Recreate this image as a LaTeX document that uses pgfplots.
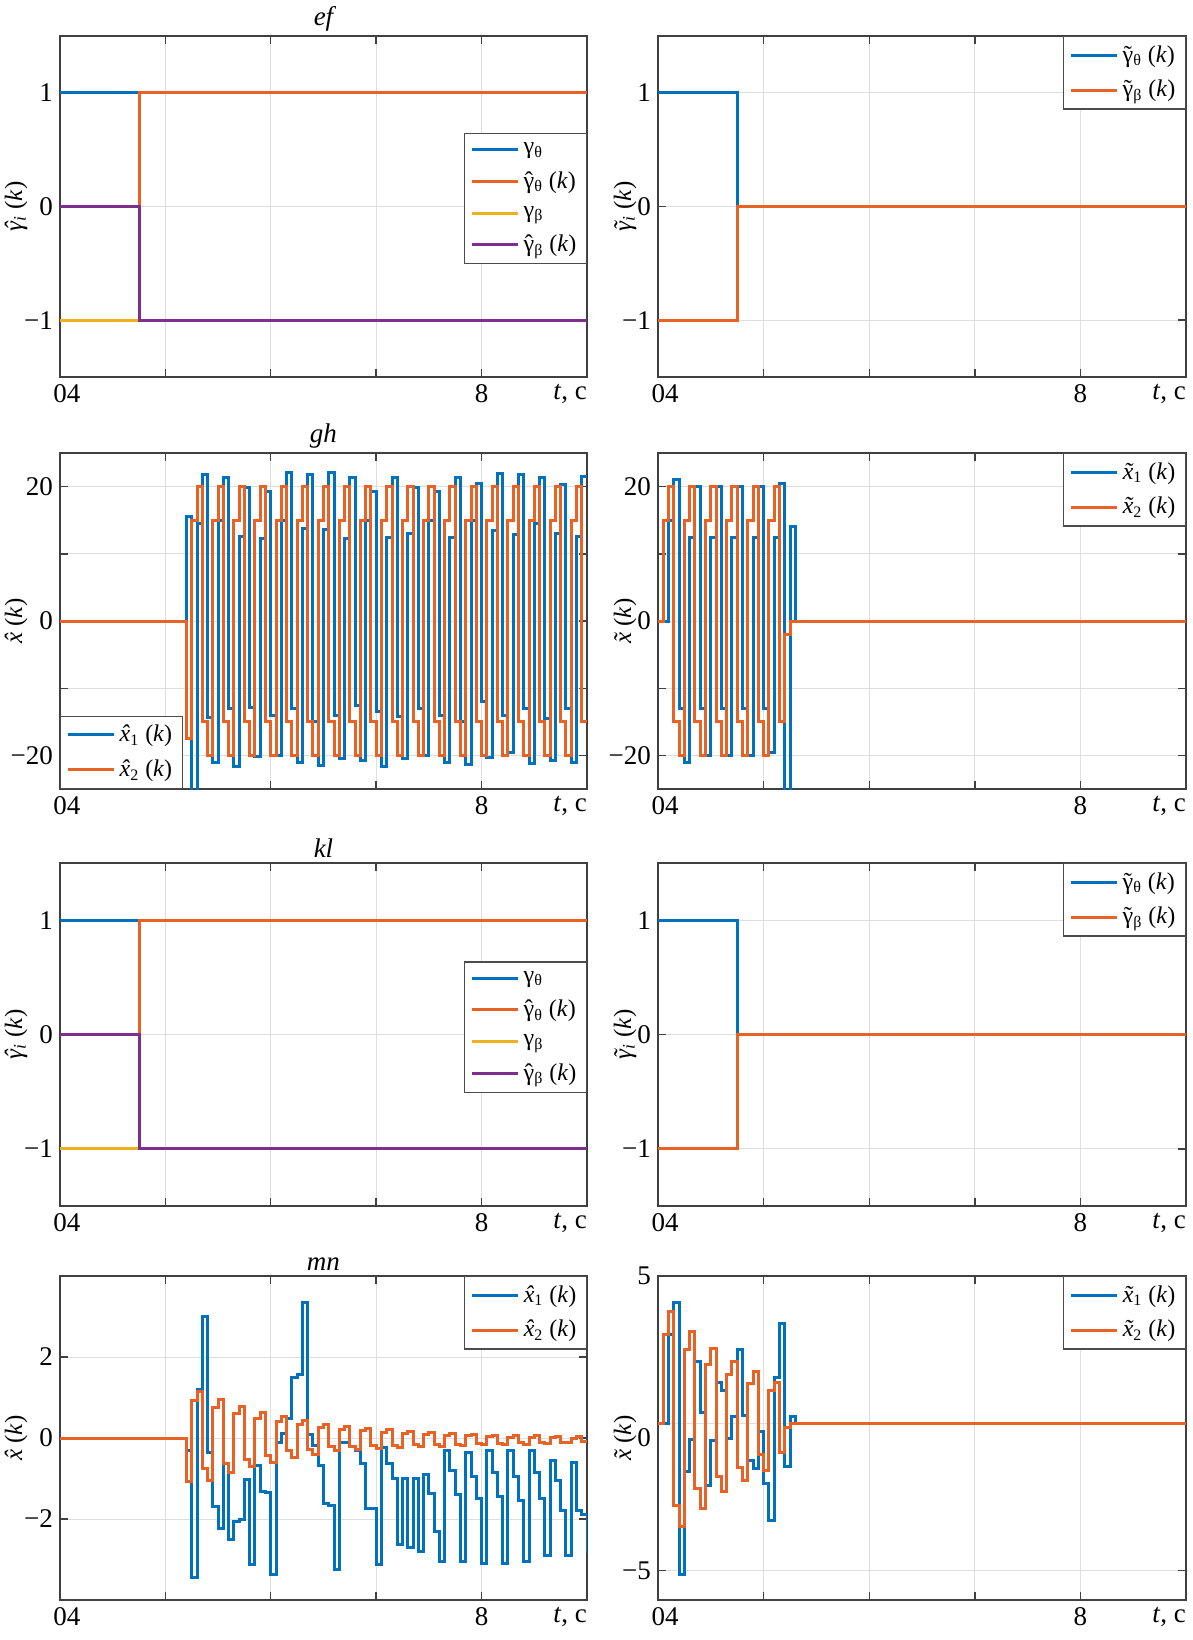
\documentclass[border=0pt]{standalone}
\usepackage{fontspec}
\setmainfont{Liberation Serif}
\usepackage{pgfplots}
\pgfplotsset{compat=1.18}
\definecolor{mblue}{rgb}{0,0.447,0.741}
\definecolor{morange}{RGB}{232,98,38}
\definecolor{myellow}{rgb}{0.929,0.694,0.125}
\definecolor{mpurple}{rgb}{0.494,0.184,0.556}
\newcommand\tickfont{\fontsize{13.5}{15}\selectfont}
\newcommand\legfont{\fontsize{12}{14}\selectfont}
\newcommand\labfont{\fontsize{12.5}{15}\selectfont}
\newcommand\acc[2]{\ooalign{#2\cr\hidewidth#1\hidewidth\cr}}
\newcommand\hatc[1]{\acc{\char"02C6}{#1}}
\newcommand\tilc[1]{\acc{\char"02DC}{#1}}
\newcommand\kk{(\textit{k})}
\newcommand\tc{\textit{t}{,}\ c}
\pgfplotsset{
  base/.style={
    scale only axis, anchor=north west,
    xmin=0, xmax=10,
    xtick={0,2,4,6,8,10},
    xticklabels={\hspace{7pt}04,{},{},{},8,{}},
    extra x ticks={10},
    extra x tick labels={\tc},
    extra x tick style={grid=none, major tick length=0pt, xticklabel style={anchor=north east, xshift=3.5pt}},
    grid=major,
    major grid style={line width=0.5pt, draw=black!13},
    axis line style={line width=0.8pt, draw=black!75},
    tick align=inside,
    major tick length=4pt,
    tick style={line width=0.7pt, draw=black!75},
    tick label style={font=\tickfont},
    every axis title/.style={at={(0.5,1)}, anchor=south, yshift=-1pt, font=\tickfont\itshape},
    legend cell align=left,
    legend style={font=\legfont, draw=black!70, line width=0.6pt, fill=white, inner xsep=3pt, inner ysep=2.5pt, row sep=3.5pt},
    legend image code/.code={\draw[#1, line width=1.5pt] (0pt,0pt) -- (23pt,0pt);},
    every axis plot/.append style={line width=1.5pt},
  },
  leftcol/.style={width=263.5pt, every axis y label/.style={at={(axis description cs:-0.0835,0.5)}, rotate=90, anchor=center, font=\labfont}},
  rightcol/.style={width=264pt, every axis y label/.style={at={(axis description cs:-0.0625,0.5)}, rotate=90, anchor=center, font=\labfont}},
  gam/.style={ymin=-1.5, ymax=1.5, ytick={-1,0,1}, yticklabels={−1,0,1}},
  bigx/.style={ymin=-25, ymax=25, ytick={-20,-10,0,10,20}, yticklabels={−20,{},0,{},20}},
}
\begin{document}
\begin{tikzpicture}
\useasboundingbox (0pt,0pt) rectangle (596.5pt,-820pt);

% ---------------- Row 1 left
\begin{axis}[base, leftcol, gam, at={(30pt,-18pt)}, height=170.5pt, title={ef},
  ylabel={{\itshape\hatc{γ}}\textsubscript{\itshape i} \kk},
  legend style={at={(1,0.716)}, anchor=north east}]
\addplot[const plot, mblue] coordinates {(0,1) (10,1)};
\addlegendentry{γ\textsubscript{θ}}
\addplot[const plot, morange] coordinates {(0,0) (1.5,1) (10,1)};
\addlegendentry{\hatc{γ}\textsubscript{θ} \kk}
\addplot[const plot, myellow] coordinates {(0,-1) (10,-1)};
\addlegendentry{γ\textsubscript{β}}
\addplot[const plot, mpurple] coordinates {(0,0) (1.5,-1) (10,-1)};
\addlegendentry{\hatc{γ}\textsubscript{β} \kk}
\end{axis}

% ---------------- Row 1 right
\begin{axis}[base, rightcol, gam, at={(329pt,-18pt)}, height=170.5pt,
  ylabel={{\itshape\tilc{γ}}\textsubscript{\itshape i} \kk},
  legend style={at={(1,1)}, anchor=north east}]
\addplot[const plot, mblue] coordinates {(0,1) (1.5,0) (10,0)};
\addlegendentry{\tilc{γ}\textsubscript{θ} \kk}
\addplot[const plot, morange] coordinates {(0,-1) (1.5,0) (10,0)};
\addlegendentry{\tilc{γ}\textsubscript{β} \kk}
\end{axis}

% ---------------- Row 2 left
\begin{axis}[base, leftcol, bigx, at={(30pt,-226.5pt)}, height=168pt, title={gh},
  ylabel={\textit{\hatc{x}} \kk},
  legend style={at={(0,0)}, anchor=south west}]
\addplot[const plot, mblue] coordinates {(0,0) (2.4,15.5) (2.5,-30) (2.6,14.5) (2.7,21.8)
 (2.8,-14.3) (2.9,-21.0) (3.0,15.0) (3.1,21.4)
 (3.2,-13.0) (3.3,-21.7) (3.4,12.6) (3.5,19.8)
 (3.6,-12.8) (3.7,-20.2) (3.8,12.3) (3.9,19.3)
 (4.0,-14.0) (4.1,-20.0) (4.2,15.0) (4.3,22.1)
 (4.4,-13.0) (4.5,-21.0) (4.6,13.8) (4.7,21.8)
 (4.8,-15.0) (4.9,-21.5) (5.0,13.6) (5.1,22.1)
 (5.2,-14.0) (5.3,-20.5) (5.4,12.3) (5.5,21.4)
 (5.6,-12.5) (5.7,-20.7) (5.8,15.0) (5.9,19.3)
 (6.0,-13.5) (6.1,-21.7) (6.2,12.5) (6.3,21.4)
 (6.4,-14.2) (6.5,-20.5) (6.6,13.0) (6.7,19.8)
 (6.8,-13.0) (6.9,-20.0) (7.0,15.0) (7.1,19.3)
 (7.2,-14.0) (7.3,-21.0) (7.4,12.5) (7.5,21.4)
 (7.6,-15.0) (7.7,-21.3) (7.8,15.0) (7.9,20.5)
 (8.0,-12.0) (8.1,-20.3) (8.2,13.5) (8.3,22.0)
 (8.4,-14.0) (8.5,-19.5) (8.6,12.8) (8.7,21.8)
 (8.8,-13.0) (8.9,-21.2) (9.0,14.5) (9.1,21.4)
 (9.2,-14.5) (9.3,-20.7) (9.4,13.0) (9.5,20.3)
 (9.6,-13.0) (9.7,-21.0) (9.8,12.6) (9.9,21.5) (10,21.5)};
\addlegendentry{\textit{\hatc{x}}\textsubscript{1} \kk}
\addplot[const plot, morange] coordinates {(0,0) (2.4,-17.5)
 (2.5,15) (2.6,20) (2.7,-15) (2.8,-20)
 (2.9,15) (3.0,20) (3.1,-15) (3.2,-20)
 (3.3,15) (3.4,20) (3.5,-15) (3.6,-20)
 (3.7,15) (3.8,20) (3.9,-15) (4.0,-20)
 (4.1,15) (4.2,20) (4.3,-15) (4.4,-20)
 (4.5,15) (4.6,20) (4.7,-15) (4.8,-20)
 (4.9,15) (5.0,20) (5.1,-15) (5.2,-20)
 (5.3,15) (5.4,20) (5.5,-15) (5.6,-20)
 (5.7,15) (5.8,20) (5.9,-15) (6.0,-20)
 (6.1,15) (6.2,20) (6.3,-15) (6.4,-20)
 (6.5,15) (6.6,20) (6.7,-15) (6.8,-20)
 (6.9,15) (7.0,20) (7.1,-15) (7.2,-20)
 (7.3,15) (7.4,20) (7.5,-15) (7.6,-20)
 (7.7,15) (7.8,20) (7.9,-15) (8.0,-20)
 (8.1,15) (8.2,20) (8.3,-15) (8.4,-20)
 (8.5,15) (8.6,20) (8.7,-15) (8.8,-20)
 (8.9,15) (9.0,20) (9.1,-15) (9.2,-20)
 (9.3,15) (9.4,20) (9.5,-15) (9.6,-20)
 (9.7,15) (9.8,20) (9.9,-15) (10,-15)};
\addlegendentry{\textit{\hatc{x}}\textsubscript{2} \kk}
\end{axis}

% ---------------- Row 2 right
\begin{axis}[base, rightcol, bigx, at={(329pt,-226.5pt)}, height=168pt,
  ylabel={\textit{\tilc{x}} \kk},
  legend style={at={(1,1)}, anchor=north east}]
\addplot[const plot, mblue] coordinates {(0,0) (0.2,15) (0.3,21) (0.4,-13) (0.5,-21)
 (0.6,12.5) (0.7,20) (0.8,-13) (0.9,-20) (1.0,12.5) (1.1,20) (1.2,-13) (1.3,-20)
 (1.4,12.5) (1.5,20) (1.6,-13) (1.7,-20) (1.8,12.5) (1.9,20) (2.0,-13) (2.1,-19.5)
 (2.2,12.5) (2.3,20.5) (2.4,-30) (2.5,14) (2.6,0) (10,0)};
\addlegendentry{\textit{\tilc{x}}\textsubscript{1} \kk}
\addplot[const plot, morange] coordinates {(0,0) (0.1,15) (0.2,20) (0.3,-15) (0.4,-20)
 (0.5,15) (0.6,20) (0.7,-15) (0.8,-20) (0.9,15) (1.0,20) (1.1,-15) (1.2,-20)
 (1.3,15) (1.4,20) (1.5,-15) (1.6,-20) (1.7,15) (1.8,20) (1.9,-15) (2.0,-20)
 (2.1,15) (2.2,20) (2.3,-15) (2.4,-2) (2.5,0) (10,0)};
\addlegendentry{\textit{\tilc{x}}\textsubscript{2} \kk}
\end{axis}

% ---------------- Row 3 left
\begin{axis}[base, leftcol, gam, at={(30pt,-431.5pt)}, height=171.5pt, title={kl},
  ylabel={{\itshape\hatc{γ}}\textsubscript{\itshape i} \kk},
  legend style={at={(1,0.713)}, anchor=north east}]
\addplot[const plot, mblue] coordinates {(0,1) (10,1)};
\addlegendentry{γ\textsubscript{θ}}
\addplot[const plot, morange] coordinates {(0,0) (1.5,1) (10,1)};
\addlegendentry{\hatc{γ}\textsubscript{θ} \kk}
\addplot[const plot, myellow] coordinates {(0,-1) (10,-1)};
\addlegendentry{γ\textsubscript{β}}
\addplot[const plot, mpurple] coordinates {(0,0) (1.5,-1) (10,-1)};
\addlegendentry{\hatc{γ}\textsubscript{β} \kk}
\end{axis}

% ---------------- Row 3 right
\begin{axis}[base, rightcol, gam, at={(329pt,-431.5pt)}, height=171.5pt,
  ylabel={{\itshape\tilc{γ}}\textsubscript{\itshape i} \kk},
  legend style={at={(1,1)}, anchor=north east}]
\addplot[const plot, mblue] coordinates {(0,1) (1.5,0) (10,0)};
\addlegendentry{\tilc{γ}\textsubscript{θ} \kk}
\addplot[const plot, morange] coordinates {(0,-1) (1.5,0) (10,0)};
\addlegendentry{\tilc{γ}\textsubscript{β} \kk}
\end{axis}

% ---------------- Row 4 left
\begin{axis}[base, leftcol, at={(30pt,-638pt)}, height=162pt, title={mn},
  ymin=-4, ymax=4, ytick={-2,0,2}, yticklabels={−2,0,2},
  ylabel={\textit{\hatc{x}} \kk},
  legend style={at={(1,1)}, anchor=north east}]
\addplot[const plot, mblue] coordinates {(0,0) (2.4,-0.32) (2.5,-3.45) (2.6,1.20) (2.7,3.00)
 (2.8,-0.35) (2.9,-1.70) (3.0,-2.23) (3.1,-0.63) (3.2,-2.50) (3.3,-2.07) (3.4,-2.00)
 (3.5,-1.03) (3.6,-3.13) (3.7,-0.67) (3.8,-1.31) (3.9,-1.35) (4.0,-3.36) (4.1,-0.10)
 (4.2,0.10) (4.3,0.48) (4.4,1.49) (4.5,1.57) (4.6,3.35) (4.7,0.08) (4.8,-0.18)
 (4.9,-0.68) (5.0,-1.62) (5.1,-1.66) (5.2,-3.25) (5.3,-0.12) (5.4,-0.12) (5.5,-0.20)
 (5.6,-0.30) (5.7,-0.64) (5.8,-1.73) (5.9,-1.73) (6.0,-3.12) (6.1,-0.24) (6.2,-0.64)
 (6.3,-1.00) (6.4,-2.63) (6.5,-1.00) (6.6,-2.70) (6.7,-1.00) (6.8,-2.80) (6.9,-0.90)
 (7.0,-1.37) (7.1,-2.30) (7.2,-3.05) (7.3,-0.30) (7.4,-0.80) (7.5,-1.40) (7.6,-3.05)
 (7.7,-0.35) (7.8,-0.95) (7.9,-1.50) (8.0,-3.10) (8.1,-0.30) (8.2,-0.85) (8.3,-1.45)
 (8.4,-3.10) (8.5,-0.30) (8.6,-0.95) (8.7,-1.55) (8.8,-3.05) (8.9,-0.30) (9.0,-0.85)
 (9.1,-1.50) (9.2,-2.90) (9.3,-0.55) (9.4,-1.05) (9.5,-1.80) (9.6,-2.90) (9.7,-0.60)
 (9.8,-1.78) (9.9,-1.90) (10,-2.85)};
\addlegendentry{\textit{\hatc{x}}\textsubscript{1} \kk}
\addplot[const plot, morange] coordinates {(0,0) (2.4,-1.08) (2.5,0.92) (2.6,1.14) (2.7,-0.76)
 (2.8,-1.04) (2.9,0.76) (3.0,0.96) (3.1,-0.64) (3.2,-0.84) (3.3,0.60) (3.4,0.78)
 (3.5,-0.52) (3.6,-0.70) (3.7,0.48) (3.8,0.63) (3.9,-0.42) (4.0,-0.60) (4.1,0.40)
 (4.2,0.52) (4.3,-0.32) (4.4,-0.48) (4.5,0.34) (4.6,0.44) (4.7,-0.28) (4.8,-0.40)
 (4.9,0.27) (5.0,0.34) (5.1,-0.22) (5.2,-0.32) (5.3,0.22) (5.4,0.28) (5.5,-0.20)
 (5.6,-0.28) (5.7,0.18) (5.8,0.24) (5.9,-0.18) (6.0,-0.26) (6.1,0.14) (6.2,0.20)
 (6.3,-0.18) (6.4,-0.24) (6.5,0.10) (6.6,0.16) (6.7,-0.17) (6.8,-0.22) (6.9,0.08)
 (7.0,0.13) (7.1,-0.16) (7.2,-0.20) (7.3,0.06) (7.4,0.11) (7.5,-0.15) (7.6,-0.19)
 (7.7,0.05) (7.8,0.09) (7.9,-0.14) (8.0,-0.17) (8.1,0.03) (8.2,0.07) (8.3,-0.13)
 (8.4,-0.16) (8.5,0.02) (8.6,0.06) (8.7,-0.12) (8.8,-0.15) (8.9,0.01) (9.0,0.05)
 (9.1,-0.11) (9.2,-0.14) (9.3,0.01) (9.4,0.04) (9.5,-0.10) (9.6,-0.12) (9.7,0.00)
 (9.8,0.03) (9.9,-0.09) (10,-0.09)};
\addlegendentry{\textit{\hatc{x}}\textsubscript{2} \kk}
\end{axis}

% ---------------- Row 4 right
\begin{axis}[base, rightcol, at={(329pt,-638pt)}, height=162pt,
  ymin=-6, ymax=5, ytick={-5,0,5}, yticklabels={−5,\raisebox{-11.4pt}[0pt][0pt]{0},5},
  ylabel={\textit{\tilc{x}} \kk},
  legend style={at={(1,1)}, anchor=north east}]
\addplot[const plot, mblue] coordinates {(0,0) (0.2,3.0) (0.3,4.1) (0.4,-5.15) (0.5,-1.65)
 (0.6,-0.55) (0.7,2.1) (0.8,0.35) (0.9,-2.1) (1.0,-0.6) (1.1,1.4) (1.2,1.1) (1.3,-0.5)
 (1.4,0.22) (1.5,2.5) (1.6,0.28) (1.7,-1.25) (1.8,-1.55) (1.9,-0.28) (2.0,-2.05)
 (2.1,-3.3) (2.2,1.55) (2.3,3.4) (2.4,-1.45) (2.5,0.24) (2.6,0) (10,0)};
\addlegendentry{\textit{\tilc{x}}\textsubscript{1} \kk}
\addplot[const plot, morange] coordinates {(0,0) (0.1,3.0) (0.2,3.8) (0.3,-2.8) (0.4,-3.5)
 (0.5,2.5) (0.6,3.1) (0.7,-2.2) (0.8,-2.9) (0.9,2.0) (1.0,2.55) (1.1,-1.8) (1.2,-2.3)
 (1.3,1.65) (1.4,2.1) (1.5,-1.5) (1.6,-1.95) (1.7,1.35) (1.8,1.75) (1.9,-1.05) (2.0,-1.6)
 (2.1,1.1) (2.2,1.4) (2.3,-1.0) (2.4,-0.15) (2.5,0) (10,0)};
\addlegendentry{\textit{\tilc{x}}\textsubscript{2} \kk}
\end{axis}
\end{tikzpicture}
\end{document}
